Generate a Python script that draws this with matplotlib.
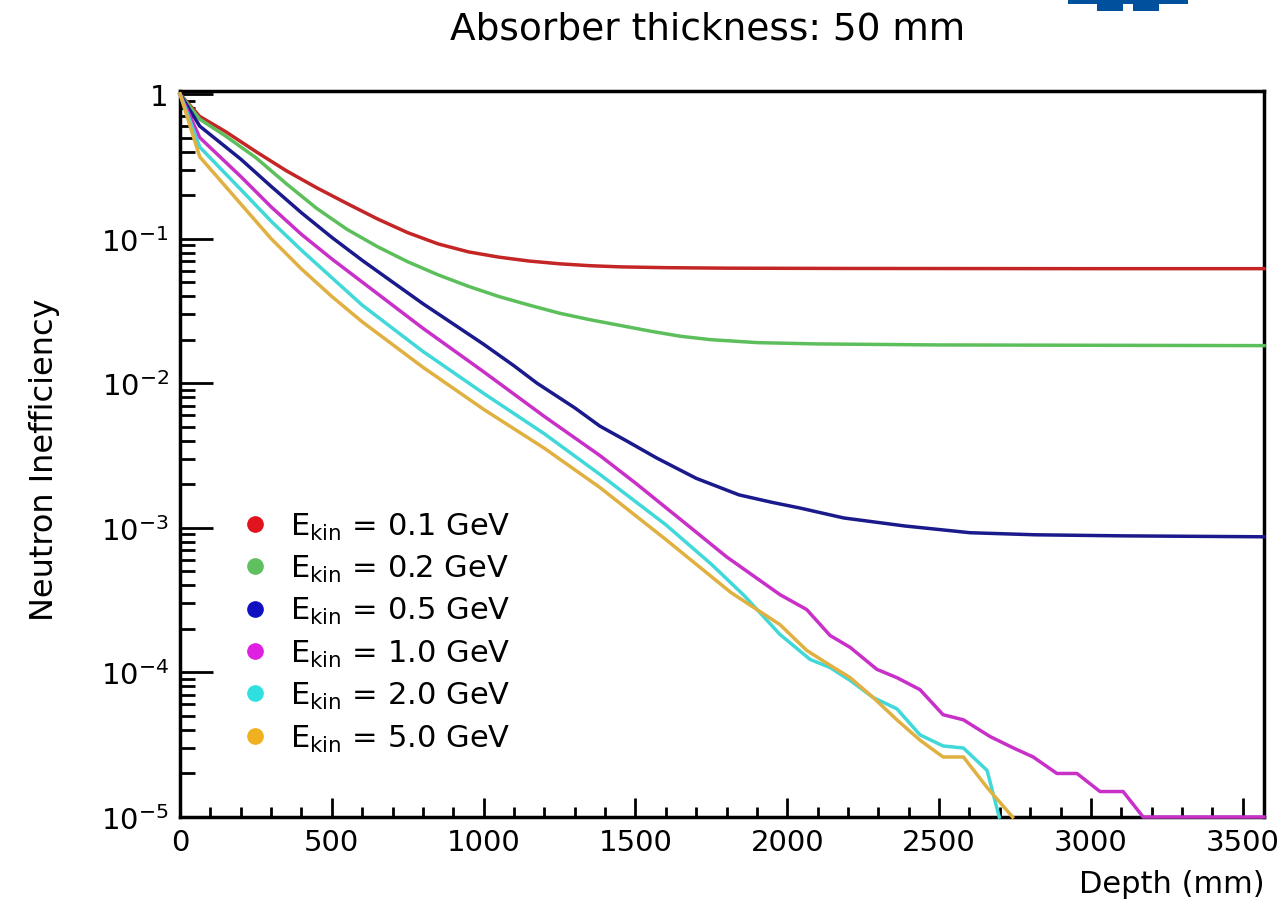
import matplotlib
matplotlib.use("Agg")
import matplotlib.pyplot as plt
import matplotlib.ticker as mtick
from matplotlib.lines import Line2D
from matplotlib.patches import Rectangle

plt.rcParams["font.family"] = ["DejaVu Sans"]
plt.rcParams["mathtext.fontset"] = "dejavusans"

################################################################################
## Data

labels = [
    r"E$_{\rm kin}$ = 0.1 GeV",
    r"E$_{\rm kin}$ = 0.2 GeV",
    r"E$_{\rm kin}$ = 0.5 GeV",
    r"E$_{\rm kin}$ = 1.0 GeV",
    r"E$_{\rm kin}$ = 2.0 GeV",
    r"E$_{\rm kin}$ = 5.0 GeV",
]

depth_01 = [0, 65, 150, 250, 350, 450, 550, 650, 750, 850, 950, 1050, 1150,
            1250, 1350, 1450, 1600, 1800, 2200, 3000, 3570]
ineff_01 = [1.0, 0.70, 0.55, 0.40, 0.295, 0.225, 0.175, 0.137, 0.110, 0.092,
            0.081, 0.0745, 0.070, 0.067, 0.065, 0.0638, 0.063, 0.0625, 0.0622,
            0.0620, 0.0620]

depth_02 = [0, 65, 150, 250, 350, 450, 550, 650, 750, 850, 950, 1050, 1150,
            1250, 1350, 1450, 1550, 1650, 1750, 1900, 2100, 2500, 3570]
ineff_02 = [1.0, 0.67, 0.513, 0.363, 0.240, 0.162, 0.116, 0.0881, 0.0692,
            0.0562, 0.0468, 0.0398, 0.0347, 0.0305, 0.0275, 0.0251, 0.0229,
            0.0211, 0.0200, 0.0191, 0.0187, 0.0184, 0.0182]

depth_05 = [0, 65, 200, 300, 400, 500, 600, 700, 800, 900, 1000, 1100, 1176,
            1300, 1383, 1470, 1570, 1700, 1841, 1950, 2042, 2186, 2387, 2602,
            2816, 3103, 3570]
ineff_05 = [1.0, 0.60, 0.355, 0.23, 0.151, 0.102, 0.0708, 0.0501, 0.0355,
            0.0257, 0.0186, 0.0132, 0.0100, 0.00676, 0.00505, 0.0040, 0.00304,
            0.0022, 0.00169, 0.00150, 0.00137, 0.00117, 0.00103, 0.000925,
            0.000895, 0.00088, 0.000867]

depth_10 = [0, 65, 200, 300, 400, 500, 600, 800, 1000, 1200, 1383, 1500, 1670,
            1800, 1976, 2064, 2141, 2207, 2295, 2361, 2437, 2513, 2580, 2668,
            2745, 2810, 2888, 2954, 3030, 3106, 3172, 3570]
ineff_10 = [1.0, 0.50, 0.269, 0.166, 0.107, 0.0724, 0.0501, 0.0240, 0.0120,
            0.00589, 0.00316, 0.00204, 0.00105, 6.3e-4, 3.45e-4, 2.72e-4,
            1.80e-4, 1.49e-4, 1.05e-4, 9.2e-5, 7.6e-5, 5.1e-5, 4.7e-5, 3.6e-5,
            3.0e-5, 2.6e-5, 2.0e-5, 2.0e-5, 1.5e-5, 1.5e-5, 1.0e-5, 1.0e-5]

depth_20 = [0, 65, 200, 300, 400, 500, 600, 800, 1000, 1200, 1383, 1600, 1750,
            1858, 1976, 2075, 2141, 2207, 2283, 2361, 2437, 2513, 2580, 2658,
            2698]
ineff_20 = [1.0, 0.43, 0.219, 0.132, 0.0832, 0.0537, 0.0347, 0.0166, 0.00851,
            0.00447, 0.00234, 0.00105, 5.6e-4, 3.4e-4, 1.83e-4, 1.23e-4,
            1.08e-4, 8.8e-5, 6.7e-5, 5.6e-5, 3.7e-5, 3.1e-5, 3.0e-5, 2.1e-5,
            1.0e-5]

depth_50 = [0, 65, 200, 300, 400, 500, 600, 800, 1000, 1200, 1383, 1600, 1815,
            1976, 2064, 2141, 2207, 2283, 2361, 2437, 2513, 2580, 2658, 2742]
ineff_50 = [1.0, 0.368, 0.174, 0.100, 0.0617, 0.0398, 0.0266, 0.0129, 0.0066,
            0.00355, 0.0019, 8.3e-4, 3.56e-4, 2.14e-4, 1.42e-4, 1.12e-4,
            9.2e-5, 6.7e-5, 4.7e-5, 3.4e-5, 2.6e-5, 2.6e-5, 1.6e-5, 1.0e-5]

line_colors = ["#c42525", "#5cbf5c", "#1a1a8c", "#c830c8", "#40d8d8", "#e0b040"]
dot_colors = ["#e0141e", "#60c060", "#1010c0", "#e020e0", "#30e0e0", "#f0b020"]

ytick_vals = [1e-5, 1e-4, 1e-3, 1e-2, 1e-1, 1]
ytick_labels = [r"$10^{-5}$", r"$10^{-4}$", r"$10^{-3}$", r"$10^{-2}$",
                r"$10^{-1}$", "1"]

################################################################################
## Plot

W, H = 1283, 912
fig = plt.figure(figsize=(W / 100, H / 100), dpi=100)
ax = fig.add_axes([180 / W, 1 - 818 / H, (1264 - 180) / W, (818 - 92) / H])

series = [
    (depth_01, ineff_01),
    (depth_02, ineff_02),
    (depth_05, ineff_05),
    (depth_10, ineff_10),
    (depth_20, ineff_20),
    (depth_50, ineff_50),
]
for (d, v), c in zip(series, line_colors):
    ax.plot(d, v, color=c, lw=2.5, clip_on=False, zorder=3,
            solid_joinstyle="round")

ax.set_yscale("log")
ax.set_xlim(0, 3570)
ax.set_ylim(1e-5, 1.05)

ax.xaxis.set_major_locator(mtick.MultipleLocator(500))
ax.xaxis.set_minor_locator(mtick.MultipleLocator(100))
ax.set_yticks(ytick_vals, labels=ytick_labels)
ax.yaxis.set_minor_locator(
    mtick.LogLocator(base=10, subs=range(2, 10), numticks=20)
)
ax.yaxis.set_minor_formatter(mtick.NullFormatter())

ax.tick_params(axis="both", which="both", direction="in", width=2,
               top=False, right=False, labelsize=21, color="black")
ax.tick_params(axis="x", which="major", length=14, pad=8)
ax.tick_params(axis="x", which="minor", length=7)
ax.tick_params(axis="y", which="major", length=24, pad=8)
ax.tick_params(axis="y", which="minor", length=11)

for s in ax.spines.values():
    s.set_linewidth(2.5)

handles = [
    Line2D([], [], marker="o", ls="", color=c, markersize=11)
    for c in dot_colors
]
ax.legend(
    handles,
    labels,
    loc="upper left",
    bbox_to_anchor=(0.0554, 0.4222),
    frameon=False,
    fontsize=22,
    handlelength=1,
    handletextpad=0.63,
    borderpad=0,
    borderaxespad=0,
    labelspacing=0.37,
)

fig.text(708 / W, 1 - 30 / H, "Absorber thickness: 50 mm",
         ha="center", va="center", fontsize=27)
fig.text(45 / W, 1 - 460 / H, "Neutron Inefficiency",
         ha="center", va="center", rotation=90, fontsize=23)
fig.text(1265 / W, 1 - 885 / H, "Depth (mm)",
         ha="right", va="center", fontsize=22)

# cropped logo at the top edge
logo = "#00509d"
for x0, x1, y0, y1 in [(1068, 1188, 0, 5), (1097, 1123, 5, 12),
                       (1133, 1159, 5, 12)]:
    fig.add_artist(Rectangle((x0 / W, 1 - y1 / H), (x1 - x0) / W,
                             (y1 - y0) / H, transform=fig.transFigure,
                             color=logo, lw=0))

fig.savefig("out.png", dpi=100)
